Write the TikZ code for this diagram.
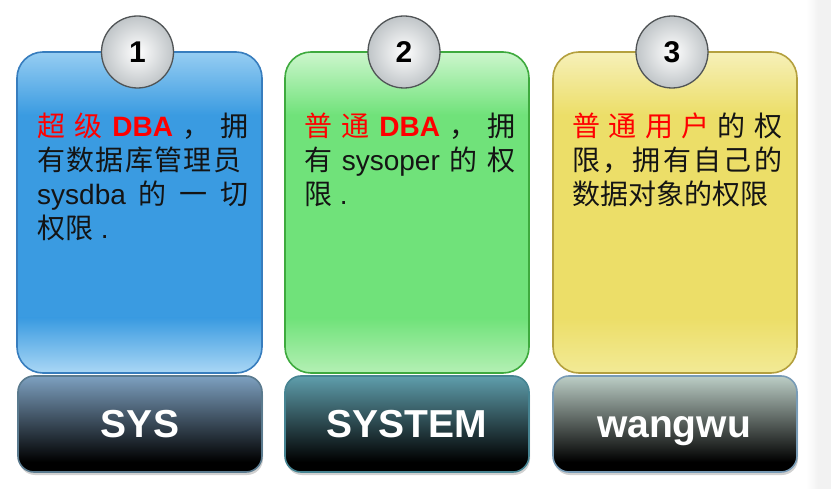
\documentclass[tikz,border=0pt]{standalone}
\usepackage{fontspec}
\setmainfont{Liberation Sans}
\newfontfamily\cjk{Noto Sans CJK SC}
\newcommand\zh[1]{{\cjk #1}}
\newcommand\rz[1]{{\color{red}\cjk #1}}
\definecolor{bmain}{RGB}{58,155,225}
\definecolor{btop}{RGB}{150,205,242}
\definecolor{bbot}{RGB}{170,215,245}
\definecolor{bline}{RGB}{55,125,190}
\definecolor{gmain}{RGB}{112,226,122}
\definecolor{gtop}{RGB}{205,246,205}
\definecolor{gbot}{RGB}{180,240,180}
\definecolor{gline}{RGB}{62,170,62}
\definecolor{ymain}{RGB}{236,222,104}
\definecolor{ytop}{RGB}{246,240,185}
\definecolor{ybot}{RGB}{242,234,150}
\definecolor{yline}{RGB}{180,160,62}
\definecolor{k1top}{RGB}{125,160,192}
\definecolor{k1line}{RGB}{90,122,142}
\definecolor{k2top}{RGB}{95,158,172}
\definecolor{k2line}{RGB}{70,132,146}
\definecolor{k3top}{RGB}{188,206,198}
\definecolor{k3line}{RGB}{120,155,182}
\definecolor{ringc}{RGB}{80,84,86}
\definecolor{ballout}{RGB}{192,197,200}
\newcommand\mkcard[6]{%
  \begin{scope}
    \clip[rounded corners=26pt] (#1,52) rectangle (#2,373);
    \fill[#3] (#1,52) rectangle (#2,373);
    \shade[top color=#4, bottom color=#3] (#1,52) rectangle (#2,115);
    \shade[top color=#3, bottom color=#5] (#1,318) rectangle (#2,373);
  \end{scope}
  \draw[#6, line width=1.6pt, rounded corners=26pt] (#1,52) rectangle (#2,373);
}
\newcommand\mkbox[4]{%
  \fill[black!18, rounded corners=16pt] (#1+1,379) rectangle (#2+1,475);
  \begin{scope}
    \clip[rounded corners=16pt] (#1,376) rectangle (#2,472);
    \fill[black] (#1,376) rectangle (#2,472);
    \shade[top color=#3, bottom color=black] (#1,376) rectangle (#2,462);
  \end{scope}
  \draw[#4, line width=1.6pt, rounded corners=16pt] (#1,376) rectangle (#2,472);
}
\tikzset{
  ln/.style={anchor=base west, inner sep=0pt, text=black!92, font=\fontsize{28}{28}\selectfont},
  lab/.style={anchor=base, inner sep=0pt, text=white, font=\bfseries\fontsize{39}{39}\selectfont},
  ball/.style={circle, minimum size=72pt, inner sep=0pt, draw=ringc, line width=1.3pt,
    inner color=white, outer color=ballout, font=\bfseries\fontsize{30}{30}\selectfont}
}
\begin{document}
\begin{tikzpicture}[x=1pt,y=-1pt]
\useasboundingbox (0,0) rectangle (831,489);
\fill[white] (0,0) rectangle (831,489);
\shade[left color=white, right color=black!5] (806,0) rectangle (818,489);
\fill[black!5] (818,0) rectangle (831,489);

\mkcard{17}{262}{bmain}{btop}{bbot}{bline}
\mkcard{285}{529}{gmain}{gtop}{gbot}{gline}
\mkcard{553}{797}{ymain}{ytop}{ybot}{yline}

\mkbox{18}{262}{k1top}{k1line}
\mkbox{285}{529}{k2top}{k2line}
\mkbox{553}{797}{k3top}{k3line}

\node[ball] (c1) at (137.5,52) {1};
\node[ball] (c2) at (404,52) {2};
\node[ball] (c3) at (672,52) {3};

% card 1 text
\node[ln] (t1a) at (37,137) {\makebox[211pt][s]{\rz{超}\hfill\rz{级}\hfill\textcolor{red}{\bfseries DBA}\hfill\zh{，}\hfill\zh{拥}}};
\node[ln] (t1b) at (37,171) {\makebox[204pt][s]{\zh{有}\hfill\zh{数}\hfill\zh{据}\hfill\zh{库}\hfill\zh{管}\hfill\zh{理}\hfill\zh{员}}};
\node[ln] (t1c) at (37,205) {\makebox[211pt][s]{sysdba\hfill\zh{的}\hfill\zh{一}\hfill\zh{切}}};
\node[ln] (t1d) at (37,239) {\zh{权限} .};

% card 2 text
\node[ln] (t2a) at (304,137) {\makebox[211pt][s]{\rz{普}\hfill\rz{通}\hfill\textcolor{red}{\bfseries DBA}\hfill\zh{，}\hfill\zh{拥}}};
\node[ln] (t2b) at (304,171) {\makebox[211pt][s]{\zh{有}\hfill sysoper\hfill\zh{的}\hfill\zh{权}}};
\node[ln] (t2c) at (304,205) {\zh{限} .};

% card 3 text
\node[ln] (t3a) at (572,137) {\makebox[210pt][s]{\rz{普}\hfill\rz{通}\hfill\rz{用}\hfill\rz{户}\hfill\zh{的}\hfill\zh{权}}};
\node[ln] (t3b) at (572,171) {\makebox[210pt][s]{\zh{限}\hfill\zh{，}\hfill\zh{拥}\hfill\zh{有}\hfill\zh{自}\hfill\zh{己}\hfill\zh{的}}};
\node[ln] (t3c) at (572,205) {\zh{数据对象的权限}};

% labels
\node[lab] (l1) at (140,437) {SYS};
\node[lab] (l2) at (407,437) {SYSTEM};
\node[lab] (l3) at (674,437) {wangwu};
\end{tikzpicture}
\end{document}
